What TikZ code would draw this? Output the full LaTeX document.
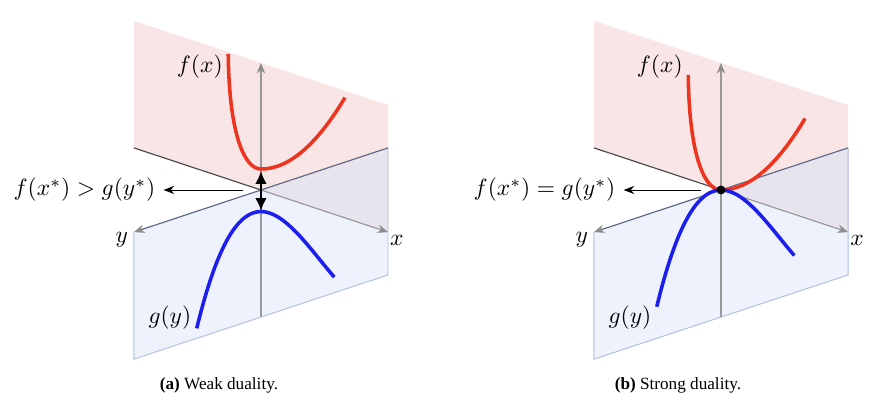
\documentclass[tikz,border=0pt]{standalone}
\usepackage{fontspec}
\newfontfamily\capfont{Liberation Serif}
\usetikzlibrary{arrows.meta}

\definecolor{fplane}{RGB}{249,229,230}
\definecolor{gplane}{RGB}{237,242,252}
\definecolor{overlap}{RGB}{232,228,238}
\definecolor{gborder}{RGB}{175,190,225}
\definecolor{slate}{RGB}{95,105,135}
\definecolor{fcurve}{RGB}{236,52,30}
\definecolor{gcurve}{RGB}{28,30,238}

\tikzset{
declare function={
  gun(\x)=0.331*(\x)-2.64*(\x)*(\x)-1.89*(\x)*(\x)*(\x);
},
plane3d/.style={x={(54pt,-17.9pt)},y={(-54pt,-17.9pt)},z={(0pt,54pt)}},
axis/.style={line width=0.5pt,black!40,-{Stealth[length=4.5pt,width=3.6pt,color=black!45]}},
fline/.style={fcurve,line width=1.5pt},
gline/.style={gcurve,line width=1.5pt,smooth,samples=80},
gap/.style={line width=1.2pt,{Latex[length=5.5pt,width=5pt]}-{Latex[length=5.5pt,width=5pt]}},
pointer/.style={line width=0.4pt,-{Stealth[length=4.5pt,width=3.4pt]}},
caption/.style={font=\capfont\fontsize{7.3}{9}\selectfont},
fgraph/.pic={
  \draw[fline] (-0.2575,0,0.82) .. controls (-0.252,0,0.2316) and (-0.1417,0,-0.0469) .. (0,0,0)
    .. controls (0.2205,0,0.073) and (0.441,0,0.3405) .. (0.6614,0,0.7816);
},
ggraph/.pic={
  \draw[gline,domain=-0.577:0.506] plot (0,\x,{gun(\x)});
},
}

\begin{document}
\begin{tikzpicture}
\useasboundingbox (-110.9pt,-89.25pt) rectangle (261.8pt,80.75pt);

\begin{scope}[plane3d]
    \coordinate (Oa) at (0,0,0);
    \coordinate (xea) at (1,0,0);
    \coordinate (xwa) at (-1,0,0);
    \coordinate (yea) at (0,1,0);
    \coordinate (ywa) at (0,-1,0);
    \coordinate (zta) at (0,0,1);
    \coordinate (zba) at (0,0,-1);

    \fill[fplane] (xwa) -- (xea) -- (1,0,1) -- (-1,0,1) -- cycle;
    \fill[gplane] (ywa) -- (yea) -- (0,1,-1) -- (0,-1,-1) -- cycle;
    \fill[overlap] (Oa) -- (ywa) -- (xea) -- cycle;
    \draw[gborder,line width=0.4pt] (ywa) -- (0,-1,-1) -- (0,1,-1) -- (yea);

    \draw[black!70,line width=0.5pt] (xwa) -- (Oa);
    \draw[axis] (Oa) -- (xea);
    \draw[slate,line width=0.5pt] (ywa) -- (Oa);
    \draw[axis,slate] (Oa) -- (yea);
    \draw[axis] (zba) -- (zta);

    \pic[shift={(0,0,0.165)}] {fgraph};
    \pic[shift={(0,0,-0.17)}] {ggraph};

    \coordinate (fmin) at (0,0,0.15);
    \coordinate (gmax) at (0,0,-0.165);
    \draw[gap] (fmin) -- (gmax);

    \coordinate (taila) at (-7.65pt,0pt);
    \node (rela) at (-75pt,0pt) {$f(x^*) > g(y^*)$};
    \draw[pointer] (taila) -- (rela);

    \node (fa) at (-26pt,52.3pt) {$f(x)$};
    \node (ga) at (-38.7pt,-54.4pt) {$g(y)$};
    \node[shift={(-5.1pt,-3.4pt)}] (ylaba) at (yea) {$y$};
    \node[shift={(3.8pt,-3.4pt)}] (xlaba) at (xea) {$x$};
    \node[caption] (capa) at (-17.85pt,-82.9pt) {\textbf{(a)} Weak duality.};
\end{scope}

\begin{scope}[plane3d,xshift=195.5pt]
    \coordinate (Ob) at (0,0,0);
    \coordinate (xeb) at (1,0,0);
    \coordinate (xwb) at (-1,0,0);
    \coordinate (yeb) at (0,1,0);
    \coordinate (ywb) at (0,-1,0);
    \coordinate (ztb) at (0,0,1);
    \coordinate (zbb) at (0,0,-1);

    \fill[fplane] (xwb) -- (xeb) -- (1,0,1) -- (-1,0,1) -- cycle;
    \fill[gplane] (ywb) -- (yeb) -- (0,1,-1) -- (0,-1,-1) -- cycle;
    \fill[overlap] (Ob) -- (ywb) -- (xeb) -- cycle;
    \draw[gborder,line width=0.4pt] (ywb) -- (0,-1,-1) -- (0,1,-1) -- (yeb);

    \draw[black!70,line width=0.5pt] (xwb) -- (Ob);
    \draw[axis] (Ob) -- (xeb);
    \draw[slate,line width=0.5pt] (ywb) -- (Ob);
    \draw[axis,slate] (Ob) -- (yeb);
    \draw[axis] (zbb) -- (ztb);

    \pic {fgraph};
    \pic {ggraph};

    \node[circle,fill=black,inner sep=0pt,minimum size=3.8pt] (opt) at (Ob) {};

    \coordinate (tailb) at (-8.5pt,0pt);
    \node (relb) at (-75pt,0pt) {$f(x^*) = g(y^*)$};
    \draw[pointer] (tailb) -- (relb);

    \node (fb) at (-26pt,52.3pt) {$f(x)$};
    \node (gb) at (-38.7pt,-54.4pt) {$g(y)$};
    \node[shift={(-5.1pt,-3.4pt)}] (ylabb) at (yeb) {$y$};
    \node[shift={(3.8pt,-3.4pt)}] (xlabb) at (xeb) {$x$};
    \node[caption] (capb) at (-18.3pt,-82.9pt) {\textbf{(b)} Strong duality.};
\end{scope}

\end{tikzpicture}
\end{document}
